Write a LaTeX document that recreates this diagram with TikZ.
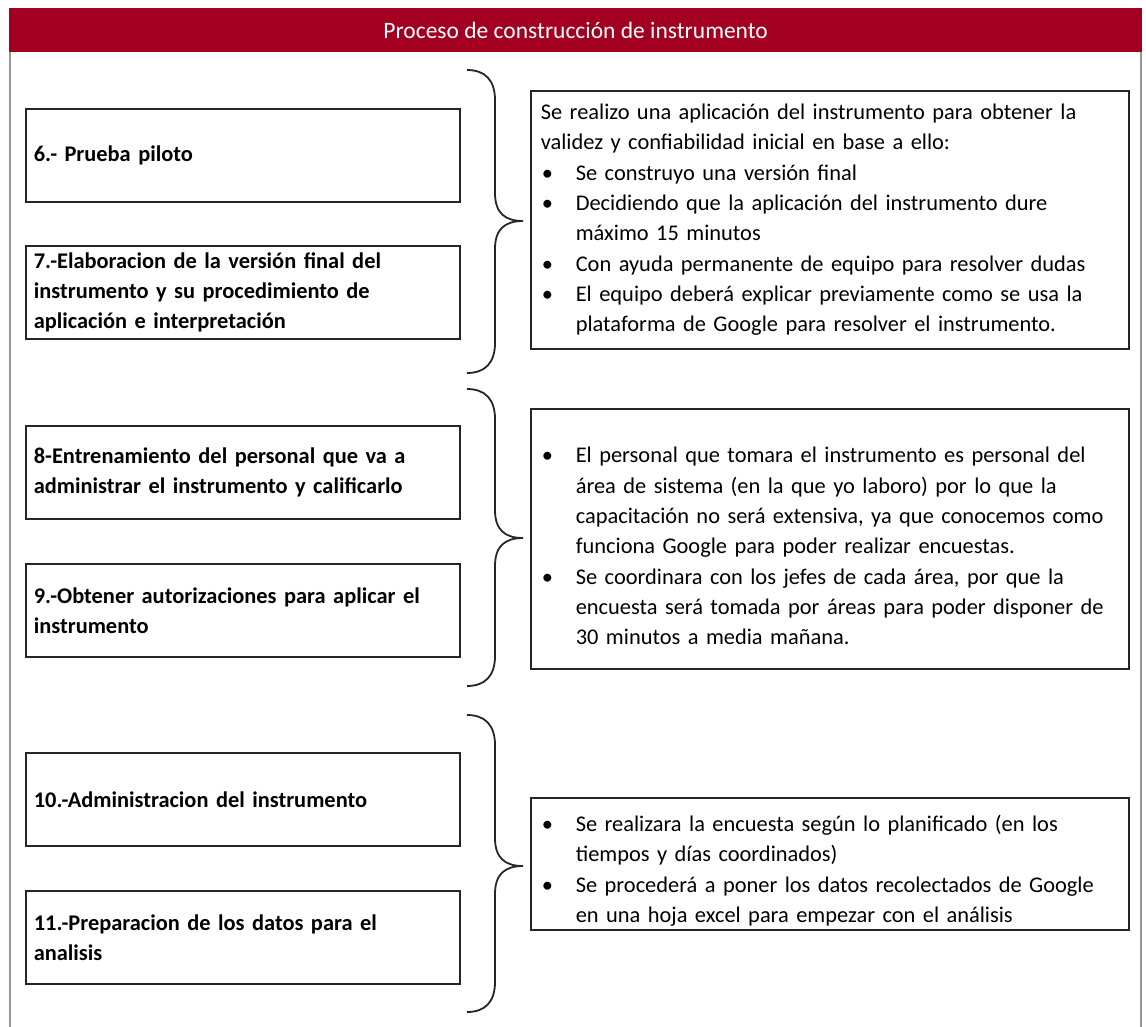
\documentclass[tikz,border=0pt]{standalone}
\usepackage{fontspec}
\setmainfont{Carlito}
\usetikzlibrary{positioning}
\usepackage{xcolor}
\definecolor{headred}{RGB}{163, 0, 33}
\definecolor{framegray}{RGB}{150, 150, 150}
\newcommand{\bitem}[1]{\par\noindent\hangindent=35pt\hangafter=1\makebox[35pt][l]{\hspace{1pt}\textbullet}#1\par}

\begin{document}
\begin{tikzpicture}[x=1pt, y=-1pt,
        stepbox/.style={draw=black!85, line width=1.6pt, anchor=north west,
            minimum width=434pt, minimum height=93pt, text width=418pt,
            inner xsep=8pt, align=left, font=\bfseries\fontsize{22.4}{30}\selectfont},
        notebox/.style={draw=black!85, line width=1.6pt, anchor=north west,
            minimum width=598pt, text width=578pt, inner xsep=10pt,
            align=left, font=\fontsize{22.4}{30.3}\selectfont},
        bracket/.style={draw=black!85, line width=1.8pt}
    ]
        \useasboundingbox (0,0) rectangle (1146,1026);

        % frame and title
        \draw[framegray, line width=1.2pt] (10,40) -- (10,1030);
        \draw[framegray, line width=1.2pt] (1141,40) -- (1141,1030);
        \node (head) [
            fill=headred,
            anchor=north west,
            minimum width=1133pt,
            minimum height=44pt,
            text=white,
            font=\fontsize{23.5}{26}\selectfont
        ] at (9,8) {Proceso de construcción de instrumento};

        % steps
        \node (s6) [stepbox] at (25,108) {6.- Prueba piloto};
        \node (s7) [stepbox] at (25,245) {7.-Elaboracion de la versión final del\\
            instrumento y su procedimiento de\\
            aplicación e interpretación};
        \node (s8) [stepbox] at (25,425) {8-Entrenamiento del personal que va a\\
            administrar el instrumento y calificarlo};
        \node (s9) [stepbox] at (25,563) {9.-Obtener autorizaciones para aplicar el\\
            instrumento};
        \node (s10) [stepbox] at (25,752) {10.-Administracion del instrumento};
        \node (s11) [stepbox] at (25,890) {11.-Preparacion de los datos para el\\
            analisis};

        % notes
        \node (n1) [notebox, minimum height=258pt] at (530,90) {%
            Se realizo una aplicación del instrumento para obtener la\\
            validez y confiabilidad inicial en base a ello:
            \bitem{Se construyo una versión final}
            \bitem{Decidiendo que la aplicación del instrumento dure\newline máximo 15 minutos}
            \bitem{Con ayuda permanente de equipo para resolver dudas}
            \bitem{El equipo deberá explicar previamente como se usa la\newline plataforma de Google para resolver el instrumento.}};
        \node (n2) [notebox, minimum height=260pt] at (530,408) {%
            \bitem{El personal que tomara el instrumento es personal del\newline
                área de sistema (en la que yo laboro) por lo que la\newline
                capacitación no será extensiva, ya que conocemos como\newline
                funciona Google para poder realizar encuestas.}
            \bitem{Se coordinara con los jefes de cada área, por que la\newline
                encuesta será tomada por áreas para poder disponer de\newline
                30 minutos a media mañana.}};
        \node (n3) [notebox, minimum height=132pt] at (530,797) {%
            \bitem{Se realizara la encuesta según lo planificado (en los\newline
                tiempos y días coordinados)}
            \bitem{Se procederá a poner los datos recolectados de Google\newline
                en una hoja excel para empezar con el análisis}};

        % braces
        \draw[bracket] (467,70) .. controls (485,70) and (495,80) .. (495,100)
            -- (495,193) .. controls (495,213) and (505,221) .. (523,221)
            .. controls (505,221) and (495,229) .. (495,249)
            -- (495,343) .. controls (495,363) and (485,373) .. (467,373);
        \draw[bracket] (467,389) .. controls (485,389) and (495,399) .. (495,419)
            -- (495,510) .. controls (495,530) and (505,538) .. (523,538)
            .. controls (505,538) and (495,546) .. (495,566)
            -- (495,656) .. controls (495,676) and (485,686) .. (467,686);
        \draw[bracket] (467,715) .. controls (485,715) and (495,725) .. (495,745)
            -- (495,838) .. controls (495,858) and (505,866) .. (523,866)
            .. controls (505,866) and (495,874) .. (495,894)
            -- (495,982) .. controls (495,1002) and (485,1012) .. (467,1012);
    \end{tikzpicture}
\end{document}
